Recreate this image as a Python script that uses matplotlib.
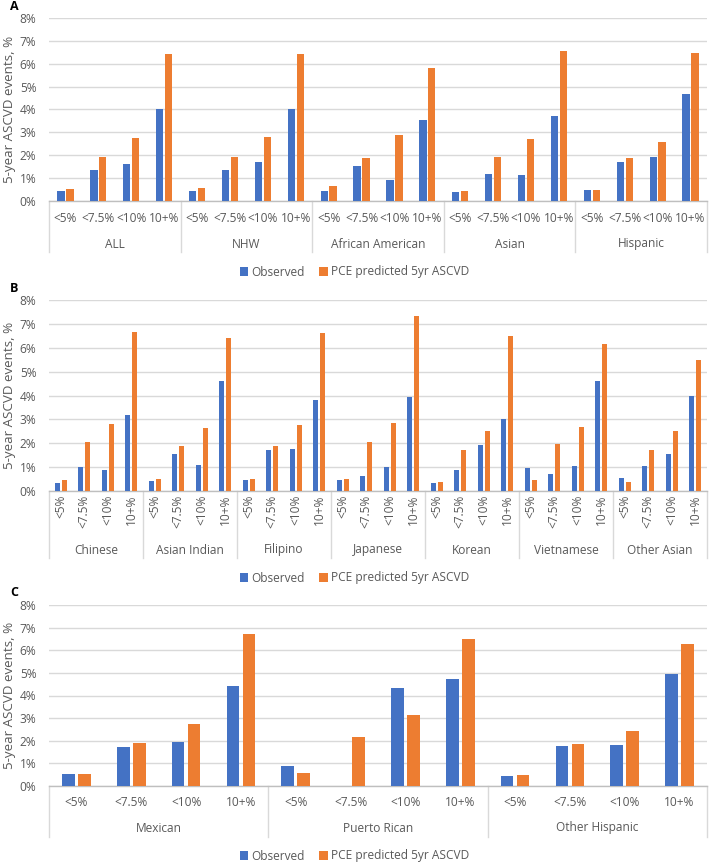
import matplotlib
matplotlib.use('Agg')
import matplotlib.pyplot as plt
import matplotlib.transforms as mtransforms
import numpy as np

plt.rcParams['font.family'] = ['Open Sans', 'DejaVu Sans']

risk_cats = ['<5%', '<7.5%', '<10%', '10+%']

groups_a = ['ALL', 'NHW', 'African American', 'Asian', 'Hispanic']
obs_a = [0.44, 1.35, 1.61, 4.00,
         0.44, 1.35, 1.72, 4.00,
         0.42, 1.51, 0.90, 3.52,
         0.41, 1.16, 1.12, 3.72,
         0.49, 1.72, 1.91, 4.67]
pce_a = [0.51, 1.93, 2.76, 6.44,
         0.55, 1.93, 2.79, 6.44,
         0.64, 1.86, 2.87, 5.82,
         0.44, 1.93, 2.72, 6.56,
         0.49, 1.86, 2.57, 6.49]

groups_b = ['Chinese', 'Asian Indian', 'Filipino', 'Japanese', 'Korean',
            'Vietnamese', 'Other Asian']
obs_b = [0.34, 0.99, 0.87, 3.17,
         0.43, 1.55, 1.08, 4.61,
         0.46, 1.72, 1.77, 3.80,
         0.45, 0.64, 1.00, 3.92,
         0.35, 0.89, 1.93, 3.03,
         0.96, 0.71, 1.06, 4.62,
         0.56, 1.06, 1.55, 3.98]
pce_b = [0.46, 2.04, 2.81, 6.68,
         0.50, 1.90, 2.65, 6.42,
         0.50, 1.89, 2.77, 6.62,
         0.49, 2.05, 2.85, 7.35,
         0.36, 1.73, 2.51, 6.49,
         0.46, 1.98, 2.67, 6.17,
         0.39, 1.70, 2.51, 5.50]

groups_c = ['Mexican', 'Puerto Rican', 'Other Hispanic']
obs_c = [0.53, 1.73, 1.93, 4.43,
         0.89, 0.00, 4.34, 4.75,
         0.46, 1.79, 1.82, 4.93]
pce_c = [0.53, 1.90, 2.76, 6.72,
         0.56, 2.15, 3.14, 6.49,
         0.47, 1.85, 2.42, 6.29]

y_ticks = [0, 1, 2, 3, 4, 5, 6, 7, 8]
y_label = '5-year ASCVD events, %'
series_names = ['Observed', 'PCE predicted 5yr ASCVD']

BLUE = '#4472C4'
ORANGE = '#ED7D31'
GRID = '#D9D9D9'
TXT = '#595959'
FS = 8.6

W, H = 709, 864
fig = plt.figure(figsize=(W / 100, H / 100), dpi=100)


def rect_px(left, top, right, bottom):
    return [left / W, 1 - bottom / H, (right - left) / W, (bottom - top) / H]


def panel(rect, groups, obs, pce, width, off, rotate, tick_dy, group_dy,
          sep_dy, legend_y, letter, letter_y):
    ax = fig.add_axes(rect)
    n = len(groups) * len(risk_cats)
    x = np.arange(n) + 0.5
    ax.bar(x - off, obs, width, color=BLUE, label=series_names[0], zorder=3)
    ax.bar(x + off, pce, width, color=ORANGE, label=series_names[1], zorder=3)
    ax.set_xlim(0, n)
    ax.set_ylim(0, 8)
    ax.set_yticks(y_ticks)
    ax.set_yticklabels(['%d%%' % t for t in y_ticks])
    ax.yaxis.grid(True, color=GRID, lw=1.0, zorder=0)
    ax.set_axisbelow(True)
    for s in ['top', 'right', 'left']:
        ax.spines[s].set_visible(False)
    ax.spines['bottom'].set_color('#BFBFBF')
    ax.spines['bottom'].set_linewidth(1.0)
    ax.set_xticks([])
    ax.tick_params(axis='y', length=0, pad=9, labelsize=FS, labelcolor=TXT)
    fig.text(10 / W, rect[1] + rect[3] / 2, y_label, rotation=90,
             ha='center', va='center', fontsize=9.6, color=TXT)

    base = ax.get_xaxis_transform()

    def off_tr(dy):
        return base + mtransforms.ScaledTranslation(0, -dy / 100, fig.dpi_scale_trans)

    labels = risk_cats * len(groups)
    for xi, lab in zip(x, labels):
        if rotate:
            ax.text(xi, 0, lab, transform=off_tr(tick_dy), rotation=90,
                    ha='center', va='top', fontsize=FS, color=TXT)
        else:
            ax.text(xi, 0, lab, transform=off_tr(tick_dy), ha='center',
                    va='center', fontsize=FS, color=TXT)
    k = len(risk_cats)
    for gi, g in enumerate(groups):
        ax.text(gi * k + k / 2, 0, g, transform=off_tr(group_dy), ha='center',
                va='center', fontsize=FS, color=TXT)
    h_px = rect[3] * H
    for gi in range(len(groups) + 1):
        ax.plot([gi * k, gi * k], [0, -sep_dy / h_px], transform=base,
                color=GRID, lw=1.0, clip_on=False)

    ax.legend(loc='center', bbox_to_anchor=(0.5, legend_y),
              bbox_transform=fig.transFigure, ncol=2, frameon=False,
              handlelength=0.7, handleheight=0.7, handletextpad=0.3,
              columnspacing=1.2, fontsize=FS, labelcolor=TXT)
    fig.text(10 / W, 1 - letter_y / H, letter, fontsize=9, fontweight='bold',
             ha='left', va='center', color='black')
    return ax


panel(rect_px(49, 18, 707, 201), groups_a, obs_a, pce_a, 0.22, 0.135, False,
      18, 43, 51, 1 - 272 / H, 'A', 7)
panel(rect_px(49, 300, 707, 491), groups_b, obs_b, pce_b, 0.21, 0.14, True,
      4, 59, 67, 1 - 578 / H, 'B', 289)
panel(rect_px(49, 605, 707, 786), groups_c, obs_c, pce_c, 0.23, 0.145, False,
      17, 42, 51, 1 - 856 / H, 'C', 592)

fig.savefig('out.png', dpi=100)
